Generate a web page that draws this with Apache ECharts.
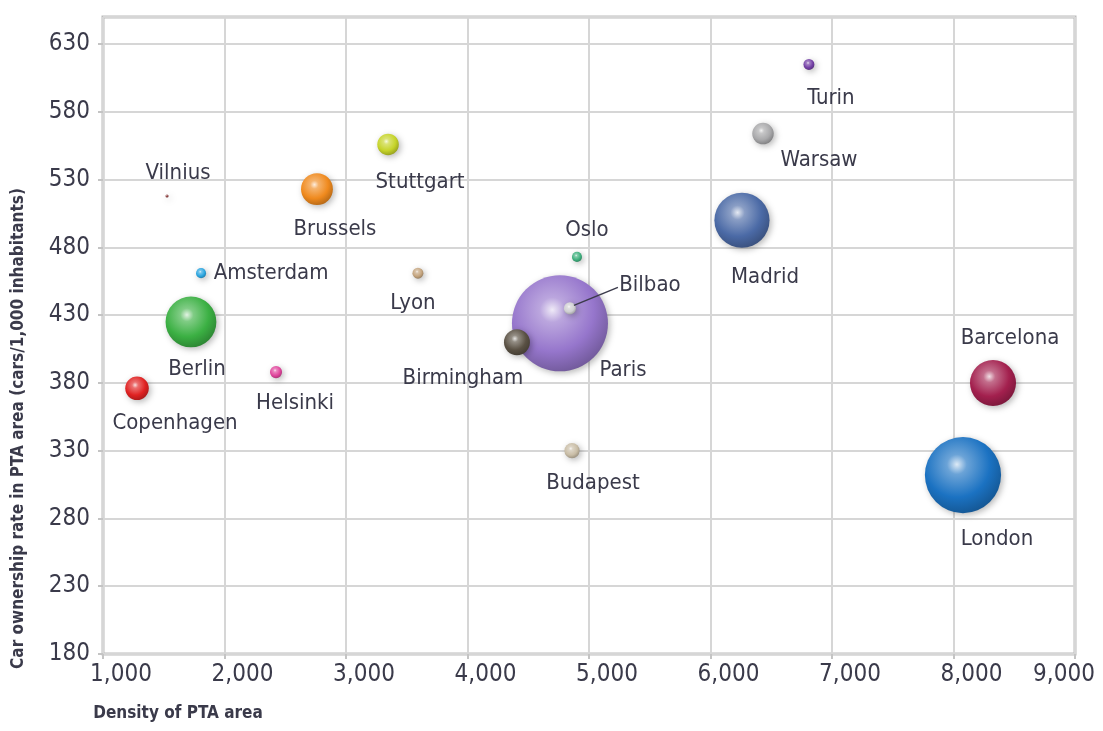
<!DOCTYPE html>
<html><head><meta charset="utf-8">
<script src="https://cdn.jsdelivr.net/npm/echarts@6/dist/echarts.min.js"></script>
<style>html,body{margin:0;padding:0;background:#fff}#c{width:1103px;height:731px}</style>
</head><body><div id="c"></div>
<script>
// ---- data ----
const cities = ['Vilnius','Brussels','Stuttgart','Amsterdam','Lyon','Berlin','Helsinki','Copenhagen','Oslo','Paris','Bilbao','Birmingham','Budapest','Turin','Warsaw','Madrid','Barcelona','London'];
const density = [1527,2761,3346,1807,3592,1724,2424,1280,4901,4761,4843,4407,4860,6810,6432,6259,8325,8078];
const carOwnership = [518,523,556,461,461,425,388,376,473,424,435,410,330,615,564,500,380,312];
const bubbleWeight = [0.1,11,5,1.1,1.3,28,1.6,6,1.1,100,1.6,7.3,2.5,1.3,5,33,23,63];
const xTickLabels = ['1,000','2,000','3,000','4,000','5,000','6,000','7,000','8,000','9,000'];
const yTickLabels = ['180','230','280','330','380','430','480','530','580','630'];
const xAxisTitle = 'Density of PTA area';
const yAxisTitle = 'Car ownership rate in PTA area (cars/1,000 inhabitants)';

// ---- styles ----
const FONT = "'Liberation Sans Narrow','DejaVu Sans Condensed','Roboto Condensed',sans-serif";
const TXT = '#3a3a4a';
const colors = {
  Vilnius:'#8a3a3a', Brussels:'#f08a1e', Stuttgart:'#c6d42a', Amsterdam:'#2ca6e0', Lyon:'#c4a47e',
  Berlin:'#3bb043', Helsinki:'#e0459c', Copenhagen:'#e02222', Oslo:'#3fb07e', Paris:'#9676cc',
  Bilbao:'#cfcfd2', Birmingham:'#5a5144', Budapest:'#c9bda6', Turin:'#7440a6', Warsaw:'#a9a9ab',
  Madrid:'#4b6aa6', Barcelona:'#a3204e', London:'#1b72c2'
};
const labelOffset = {
  Vilnius:[11,-23], Brussels:[18,40], Stuttgart:[32,38], Amsterdam:[70,0], Lyon:[-5,30], Berlin:[6,47],
  Helsinki:[19,31], Copenhagen:[38,35], Oslo:[10,-27], Paris:[63,47], Bilbao:[80,-23],
  Birmingham:[-54,36], Budapest:[21,33], Turin:[22,34], Warsaw:[56,27], Madrid:[23,57],
  Barcelona:[17,-45], London:[34,64]
};
function shade(hex, f){
  const n=parseInt(hex.slice(1),16); let r=n>>16,g=(n>>8)&255,b=n&255;
  if(f<0){r=Math.round(r*(1+f));g=Math.round(g*(1+f));b=Math.round(b*(1+f));}
  else {r=Math.round(r+(255-r)*f);g=Math.round(g+(255-g)*f);b=Math.round(b+(255-b)*f);}
  return 'rgb('+r+','+g+','+b+')';
}
function grad(c){
  return {type:'radial', x:0.42, y:0.36, r:0.72, colorStops:[
    {offset:0, color:shade(c,0.85)}, {offset:0.18, color:shade(c,0.35)},
    {offset:0.6, color:c}, {offset:1, color:shade(c,-0.3)}]};
}

const order = cities.map((c,i)=>i).sort((a,b)=>bubbleWeight[b]-bubbleWeight[a]);
const data = order.map(i=>{
  const name=cities[i];
  return {name:name, value:[density[i], carOwnership[i], bubbleWeight[i]],
    itemStyle:{color:grad(colors[name])},
    label:{position:'inside', offset:labelOffset[name]}};
});

const chart = echarts.init(document.getElementById('c'));
chart.setOption({
  animation:false,
  backgroundColor:'#fff',
  grid:{left:103, right:28, top:17, bottom:77, show:true, borderColor:'#bcbcbc', borderWidth:3},
  xAxis:{type:'value', min:1000, max:9000, interval:1000,
    name:xAxisTitle, nameLocation:'middle', nameGap:51,
    nameTextStyle:{fontFamily:FONT, fontSize:17, fontWeight:'bold', color:TXT, padding:[0,822,0,0]},
    axisLine:{show:false}, axisTick:{show:true, length:5, lineStyle:{color:'#c4c4c4', width:2}},
    splitLine:{show:true, lineStyle:{color:'#d6d6d6', width:2}},
    axisLabel:{margin:9, fontFamily:FONT, fontSize:24, color:TXT,
      formatter:(v)=>{const i=Math.round((v-1000)/1000); const t=xTickLabels[i]; return i===8?'{b|'+t+'}':'{a|'+t+'}';},
      rich:{a:{fontFamily:FONT,fontSize:24,color:TXT,padding:[0,0,0,36]}, b:{fontFamily:FONT,fontSize:24,color:TXT,padding:[0,22,0,0]}}}
  },
  yAxis:{type:'value', min:180, max:650, interval:50,
    name:yAxisTitle, nameLocation:'middle', nameGap:76,
    nameTextStyle:{fontFamily:FONT, fontSize:17, fontWeight:'bold', color:TXT, padding:[0,186,0,0]},
    axisLine:{show:false}, axisTick:{show:true, length:5, lineStyle:{color:'#c4c4c4', width:2}},
    splitLine:{show:true, lineStyle:{color:'#d6d6d6', width:2}},
    axisLabel:{margin:13, fontFamily:FONT, fontSize:24, color:TXT, showMaxLabel:false,
      formatter:(v)=>{const i=Math.round((v-180)/50); return yTickLabels[i]||'';}}
  },
  series:[{
    type:'scatter',
    data:data,
    symbolSize:(val)=>9.6*Math.sqrt(val[2]),
    itemStyle:{shadowBlur:6, shadowColor:'rgba(0,0,0,0.28)', shadowOffsetX:2, shadowOffsetY:2, opacity:1},
    label:{show:true, formatter:'{b}', fontFamily:FONT, fontSize:22, color:TXT,
      textBorderWidth:0, align:'center', verticalAlign:'middle'}
  }]
});
// leader line for Bilbao label
const bi = cities.indexOf('Bilbao');
const p = chart.convertToPixel({gridIndex:0}, [density[bi], carOwnership[bi]]);
chart.setOption({graphic:[{type:'line', z:100, shape:{x1:p[0]+4, y1:p[1]-3, x2:p[0]+48, y2:p[1]-21},
  style:{stroke:'#3a3a4a', lineWidth:1.5}}]});
</script></body></html>
